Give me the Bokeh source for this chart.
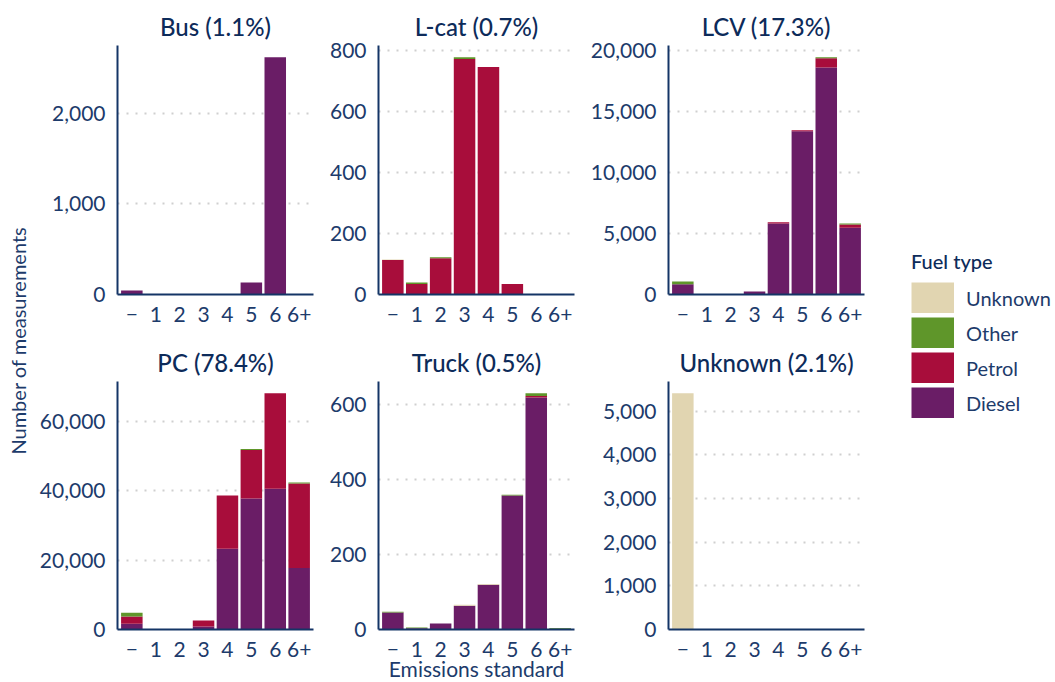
import numpy as np
from bokeh.plotting import figure
from bokeh.layouts import row, column
from bokeh.models import (Range1d, FixedTicker, NumeralTickFormatter, Legend,
                          LegendItem, ColumnDataSource, LinearAxis)
from bokeh.core.properties import value
from bokeh.embed import file_html
from bokeh.resources import INLINE

# ---------------- data ----------------
standards = ["\u2212", "1", "2", "3", "4", "5", "6", "6+"]
fuels = ["Diesel", "Petrol", "Other", "Unknown"]          # stacking order, bottom -> top
fuel_colors = ["#6a1d66", "#a80d3b", "#5f962a", "#e1d5b1"]
legend_order = ["Unknown", "Other", "Petrol", "Diesel"]

titles = ["Bus (1.1%)", "L-cat (0.7%)", "LCV (17.3%)",
          "PC (78.4%)", "Truck (0.5%)", "Unknown (2.1%)"]

bus_diesel = [45, 0, 0, 0, 0, 133, 2619, 0]
bus_petrol = [0, 0, 0, 0, 0, 0, 0, 0]
bus_other = [0, 0, 0, 0, 0, 0, 0, 0]
bus_unknown = [0, 0, 0, 0, 0, 0, 0, 0]

lcat_diesel = [0, 0, 0, 0, 0, 0, 0, 0]
lcat_petrol = [113, 34, 119, 772, 745, 34, 0, 0]
lcat_other = [0, 5, 3, 5, 0, 0, 0, 0]
lcat_unknown = [2, 0, 0, 0, 0, 0, 2, 2]

lcv_diesel = [830, 0, 0, 250, 5820, 13360, 18580, 5470]
lcv_petrol = [0, 0, 0, 0, 90, 90, 760, 270]
lcv_other = [230, 0, 0, 0, 0, 0, 80, 80]
lcv_unknown = [0, 0, 0, 0, 0, 0, 0, 0]

pc_diesel = [1630, 0, 0, 860, 23230, 37710, 40490, 17710]
pc_petrol = [2080, 0, 0, 1710, 15340, 14000, 27510, 24290]
pc_other = [1140, 0, 0, 0, 0, 290, 0, 290]
pc_unknown = [0, 0, 0, 0, 0, 0, 0, 0]

truck_diesel = [45, 3, 16, 63, 119, 357, 618, 2]
truck_petrol = [0, 0, 0, 0, 0, 0, 4, 0]
truck_other = [2, 2, 0, 0, 0, 2, 7, 2]
truck_unknown = [0, 0, 0, 3, 2, 0, 0, 0]

unk_diesel = [0, 0, 0, 0, 0, 0, 0, 0]
unk_petrol = [0, 0, 0, 0, 0, 0, 0, 0]
unk_other = [0, 0, 0, 0, 0, 0, 0, 0]
unk_unknown = [5409, 0, 0, 0, 0, 0, 0, 0]

bus_ticks = [0, 1000, 2000]
lcat_ticks = [0, 200, 400, 600, 800]
lcv_ticks = [0, 5000, 10000, 15000, 20000]
pc_ticks = [0, 20000, 40000, 60000]
truck_ticks = [0, 200, 400, 600]
unk_ticks = [0, 1000, 2000, 3000, 4000, 5000]

# ---------------- style ----------------
FONT = "Lato"
TITLE_FONT = "Lato Medium, Lato"
NAVY = "#143566"
TEXT = "#1d3b6b"
TITLE_C = "#0d2b5a"
TICK_SIZE = "21px"
TITLE_SIZE = "24px"


def make_panel(title, series, yticks, width, left, top, height, bottom, xstandoff):
    n = len(standards)
    xs = list(range(1, n + 1))
    totals = np.sum([series[f] for f in fuels], axis=0)
    p = figure(width=width, height=height,
               x_range=Range1d(0.4, n + 0.6),
               y_range=Range1d(0, float(totals.max()) * 1.05),
               output_backend="svg", toolbar_location=None,
               min_border_left=left, min_border_right=10,
               min_border_top=top, min_border_bottom=bottom,
               title=title)
    src = ColumnDataSource(dict(x=xs, **series))
    p.vbar_stack(fuels, x="x", width=0.9, source=src,
                 fill_color=fuel_colors, line_color=None)
    p.outline_line_color = None
    p.background_fill_color = "white"
    p.border_fill_alpha = 0
    p.xgrid.visible = False
    p.ygrid.ticker = FixedTicker(ticks=yticks)
    p.ygrid.grid_line_color = "#cfcfcf"
    p.ygrid.grid_line_width = 2
    p.ygrid.grid_line_dash = "2 7"

    p.xaxis.ticker = FixedTicker(ticks=xs)
    p.xaxis.major_label_overrides = {x: s for x, s in zip(xs, standards)}
    p.yaxis.ticker = FixedTicker(ticks=yticks)
    p.yaxis.formatter = NumeralTickFormatter(format="0,0")
    for ax in (p.xaxis, p.yaxis):
        ax.axis_line_color = NAVY
        ax.axis_line_width = 2
        ax.major_tick_line_color = None
        ax.minor_tick_line_color = None
        ax.major_tick_out = 0
        ax.major_tick_in = 0
        ax.major_label_text_font = FONT
        ax.major_label_text_font_size = TICK_SIZE
        ax.major_label_text_color = TEXT
    p.xaxis.major_label_standoff = xstandoff
    p.yaxis.major_label_standoff = 12

    p.title.align = "center"
    p.title.text_font = TITLE_FONT
    p.title.text_font_size = TITLE_SIZE
    p.title.text_font_style = "normal"
    p.title.text_color = TITLE_C
    p.title.standoff = 10
    return p


def series(d, pt, o, u):
    return {"Diesel": d, "Petrol": pt, "Other": o, "Unknown": u}


# column geometry (frame width 196, frame height 249)
f1 = make_panel(titles[0], series(bus_diesel, bus_petrol, bus_other, bus_unknown),
                bus_ticks, 291, 85, 45, 340, 46, 12)
f2 = make_panel(titles[1], series(lcat_diesel, lcat_petrol, lcat_other, lcat_unknown),
                lcat_ticks, 261, 55, 45, 340, 46, 12)
f3 = make_panel(titles[2], series(lcv_diesel, lcv_petrol, lcv_other, lcv_unknown),
                lcv_ticks, 290, 84, 45, 340, 46, 12)
f4 = make_panel(titles[3], series(pc_diesel, pc_petrol, pc_other, pc_unknown),
                pc_ticks, 291, 85, 40, 364, 75, 12)
f5 = make_panel(titles[4], series(truck_diesel, truck_petrol, truck_other, truck_unknown),
                truck_ticks, 261, 55, 40, 364, 75, 12)
f6 = make_panel(titles[5], series(unk_diesel, unk_petrol, unk_other, unk_unknown),
                unk_ticks, 290, 84, 40, 364, 75, 12)

# shared x-axis title: an extra, label-only axis under the middle panel
xlab = LinearAxis(axis_label="Emissions standard",
                  ticker=FixedTicker(ticks=[]),
                  axis_line_color=None, major_tick_line_color=None,
                  minor_tick_line_color=None, major_tick_out=0,
                  major_label_standoff=0, axis_label_standoff=-4,
                  axis_label_text_font=FONT, axis_label_text_font_size="21px",
                  axis_label_text_font_style="normal",
                  axis_label_text_color=TEXT)
f5.add_layout(xlab, "below")


def blank(width, height):
    b = figure(width=width, height=height, x_range=Range1d(0, width),
               y_range=Range1d(0, height), output_backend="svg",
               toolbar_location=None, x_axis_location=None,
               y_axis_location=None, min_border=0)
    b.outline_line_color = None
    b.grid.visible = False
    b.background_fill_alpha = 0
    b.border_fill_alpha = 0
    return b


# y axis title strip
ls = blank(32, 681)
ls.text(x=[17], y=[681 - 340], text=["Number of measurements"], angle=np.pi / 2,
        text_align="center", text_baseline="middle",
        text_font=value(FONT), text_font_size="20px", text_color=TEXT)

# legend
lg = blank(180, 681)
items = []
for f in legend_order:
    r = lg.line(x=[-1000, -999], y=[0, 0], line_width=31, line_cap="butt",
                line_color=fuel_colors[fuels.index(f)])
    items.append(LegendItem(label=f, renderers=[r]))
legend = Legend(items=items, location=(37, 681 - 418), title="Fuel type",
                glyph_width=43, glyph_height=31, label_height=31, spacing=4,
                label_standoff=12, padding=0, margin=0,
                border_line_color=None, background_fill_alpha=0,
                label_text_font=FONT, label_text_font_size="20px",
                label_text_color=TEXT, title_text_font=TITLE_FONT,
                title_text_font_size="20px", title_text_font_style="normal",
                title_text_color=TITLE_C, title_standoff=9)
lg.add_layout(legend)

layout = row(ls, column(row(f1, f2, f3), row(f4, f5, f6)), lg)

open("out.html", "w").write(file_html(layout, INLINE))
